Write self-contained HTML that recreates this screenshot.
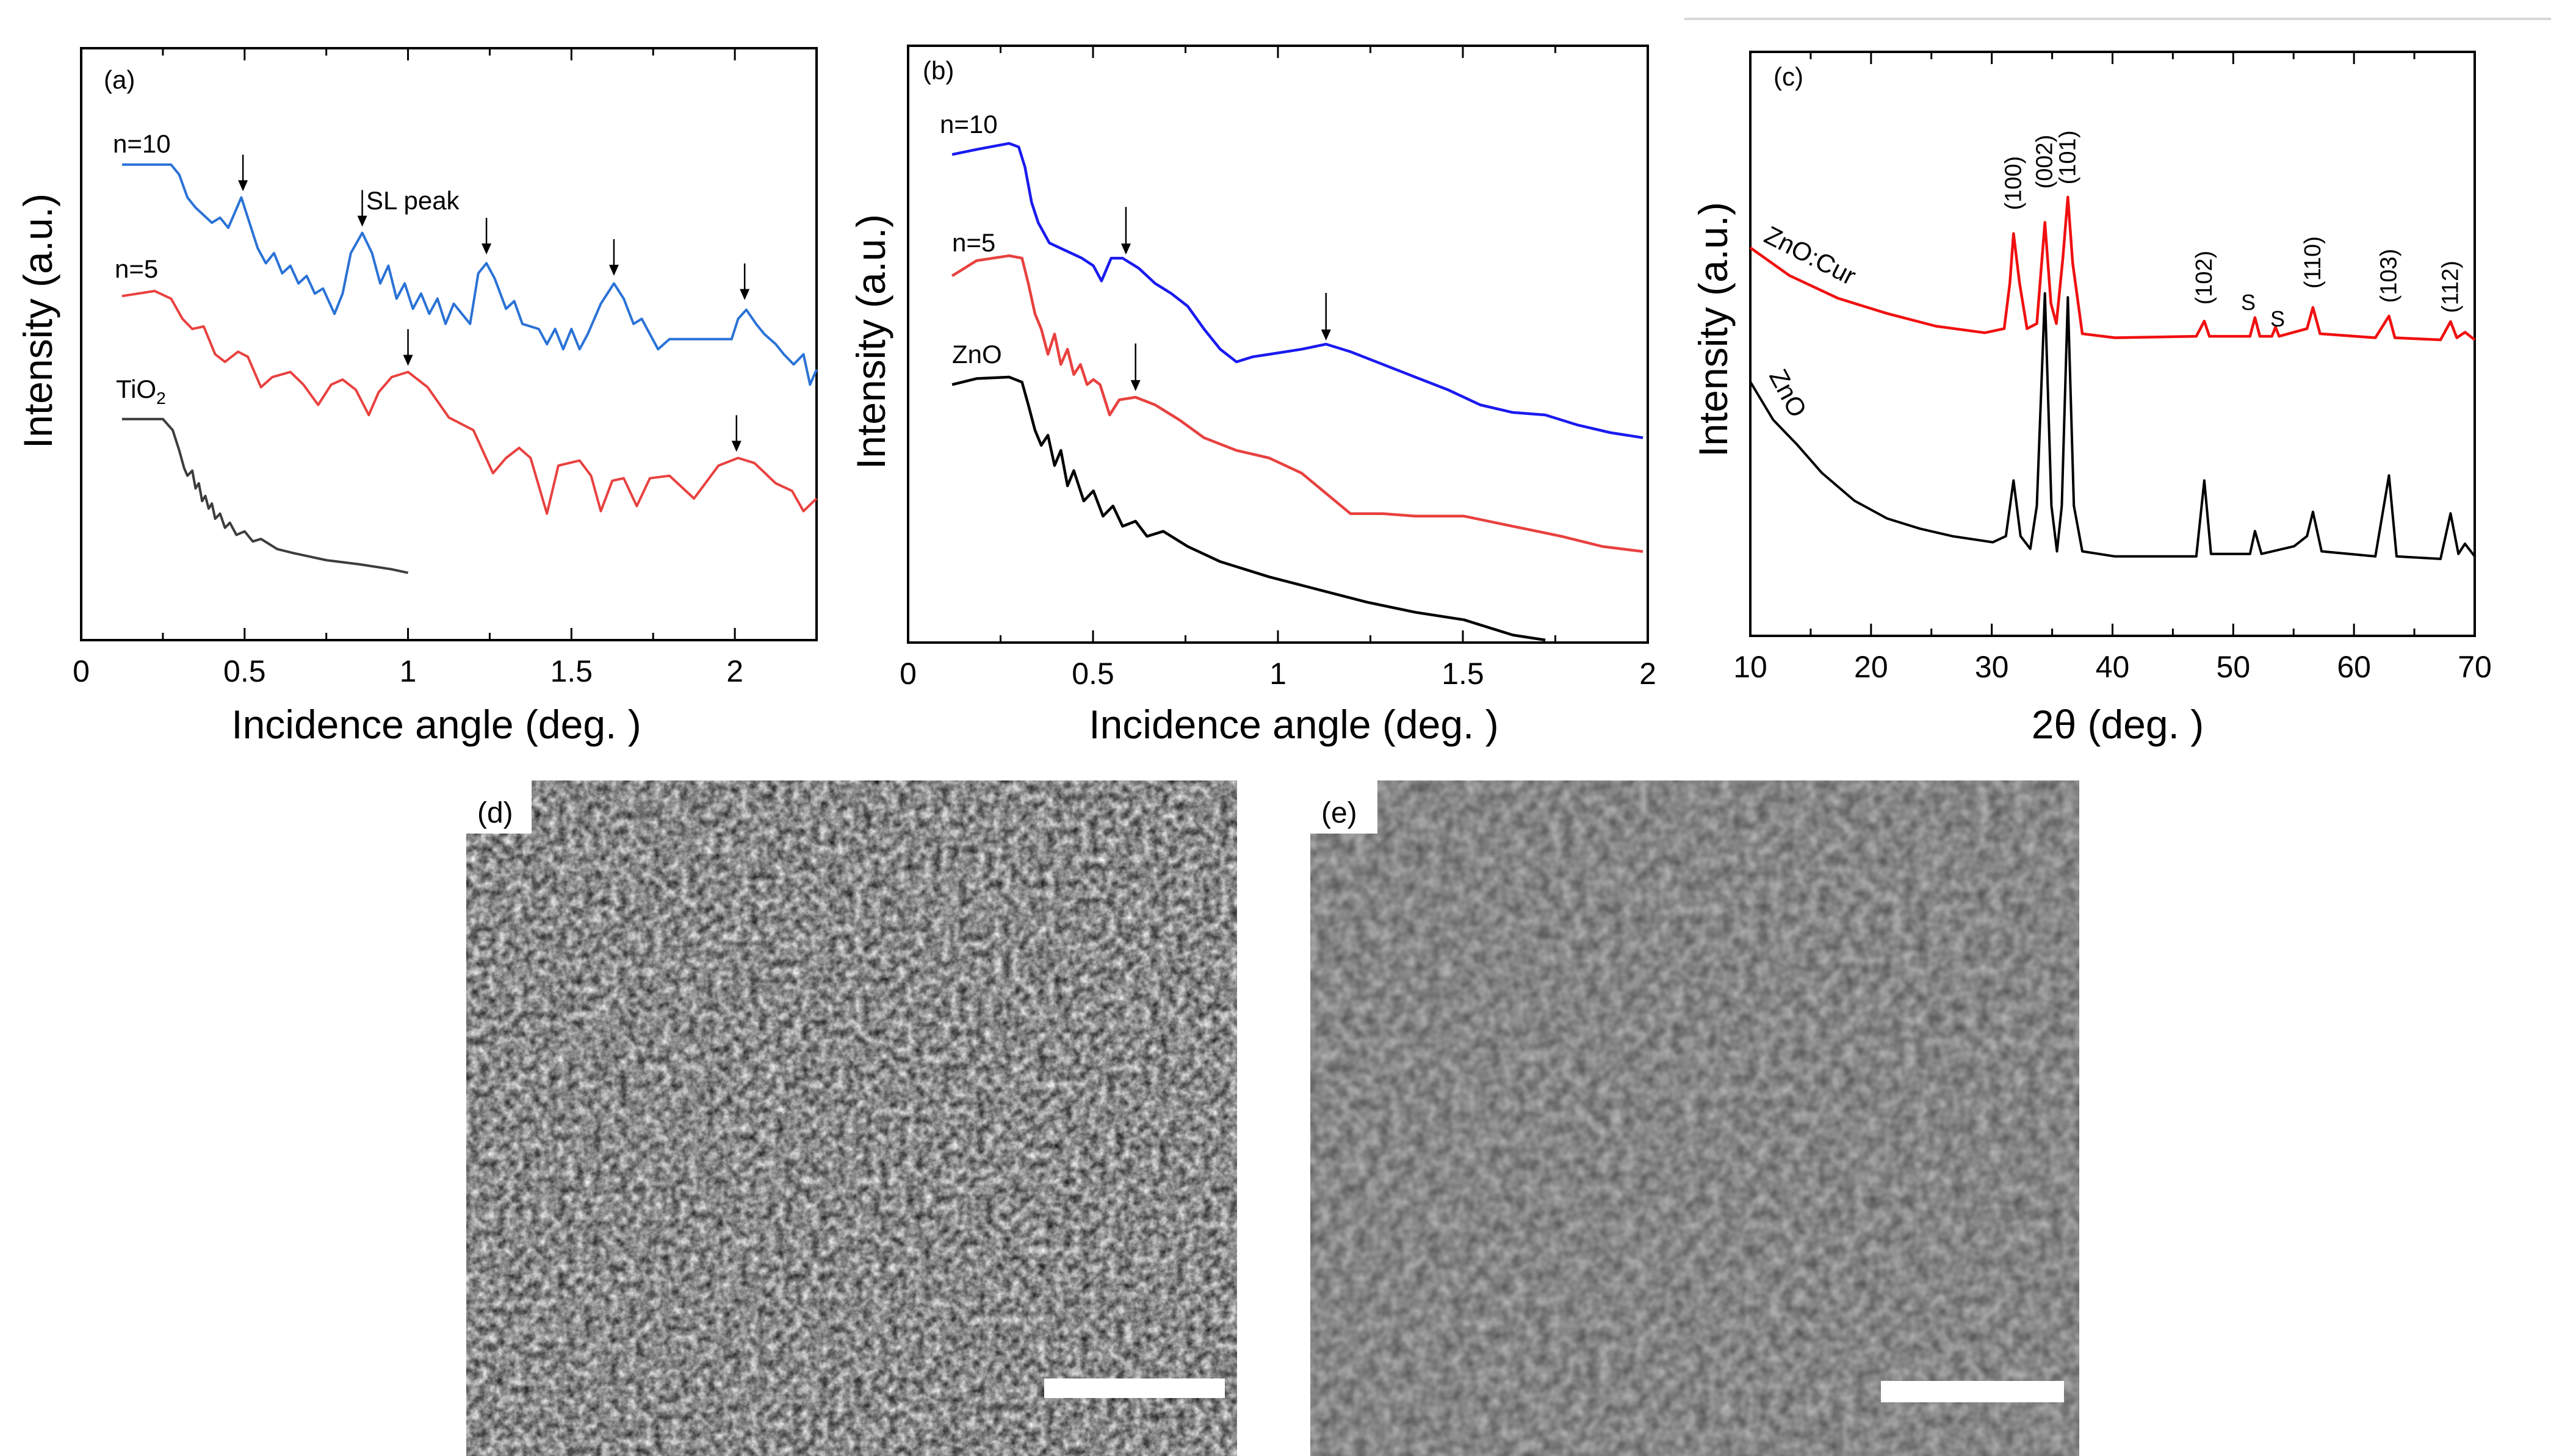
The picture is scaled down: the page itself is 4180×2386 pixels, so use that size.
<!DOCTYPE html>
<html><head><meta charset="utf-8">
<style>
html,body{margin:0;padding:0;background:#fff;}
svg{display:block;}
text{font-family:"Liberation Sans",sans-serif;}
</style></head>
<body>
<svg id="fig" width="4180" height="2386" viewBox="0 0 4180 2386" xmlns="http://www.w3.org/2000/svg">
<defs>
<filter id="semD" x="0" y="0" width="100%" height="100%" color-interpolation-filters="sRGB">
<feTurbulence type="fractalNoise" baseFrequency="0.07" numOctaves="3" seed="4"/>
<feColorMatrix type="matrix" values="1.0 0 0 0 0.04  1.0 0 0 0 0.04  1.0 0 0 0 0.04  0 0 0 0 1"/>
</filter>
<filter id="semE" x="0" y="0" width="100%" height="100%" color-interpolation-filters="sRGB">
<feTurbulence type="fractalNoise" baseFrequency="0.05" numOctaves="2" seed="9"/>
<feColorMatrix type="matrix" values="0.45 0 0 0 0.30  0.45 0 0 0 0.30  0.45 0 0 0 0.30  0 0 0 0 1"/>
</filter>
</defs>
<line x1="2760" y1="31" x2="4180" y2="31" stroke="#d8d8d8" stroke-width="4"/>
<g id="plots"></g>
<g>
<rect x="764" y="1279" width="1263" height="1107" filter="url(#semD)"/>
<rect x="764" y="1279" width="107" height="87" fill="#fff"/>
<text x="782" y="1348" font-size="48">(d)</text>
<rect x="1711" y="2259" width="296" height="32" fill="#fff"/>
</g>
<g>
<rect x="2147" y="1279" width="1260" height="1107" filter="url(#semE)"/>
<rect x="2147" y="1279" width="110" height="87" fill="#fff"/>
<text x="2165" y="1348" font-size="48">(e)</text>
<rect x="3082" y="2263" width="300" height="35" fill="#fff"/>
</g>
</svg>
<script>
// ---------- Panel (a) data ----------
const aBlueX=[0.125,0.275,0.3,0.325,0.35,0.375,0.4,0.425,0.45,0.49,0.515,0.54,0.565,0.59,0.615,0.64,0.665,0.69,0.715,0.74,0.775,0.8,0.825,0.86,0.89,0.915,0.94,0.965,0.99,1.015,1.04,1.065,1.09,1.115,1.14,1.19,1.215,1.24,1.265,1.3,1.325,1.35,1.4,1.425,1.45,1.475,1.5,1.525,1.55,1.59,1.63,1.66,1.69,1.715,1.74,1.765,1.8,1.9,1.99,2.01,2.035,2.065,2.09,2.125,2.15,2.18,2.21,2.23,2.25];
const aBlueY=[940,940,920,875,855,840,825,835,815,875,825,775,745,765,725,740,705,720,685,695,645,685,765,805,765,705,740,675,705,655,685,645,675,625,665,625,725,745,715,655,670,625,615,585,615,575,615,575,605,665,705,675,625,635,605,575,595,595,595,635,653,625,605,585,565,545,565,505,535];
const aRedX=[0.125,0.225,0.275,0.31,0.34,0.375,0.41,0.44,0.48,0.51,0.55,0.585,0.64,0.68,0.725,0.765,0.8,0.84,0.88,0.91,0.95,1.0,1.06,1.125,1.2,1.26,1.3,1.34,1.375,1.425,1.46,1.525,1.56,1.59,1.625,1.66,1.7,1.74,1.8,1.875,1.95,2.01,2.06,2.125,2.175,2.21,2.25];
const aRedY=[680,690,675,635,615,620,565,550,570,560,500,520,530,505,465,505,515,495,445,490,520,530,500,440,415,330,360,380,360,250,345,355,325,255,315,320,265,320,325,280,345,360,350,310,295,255,280];
const aGrayX=[0.125,0.25,0.28,0.3,0.315,0.325,0.34,0.35,0.36,0.37,0.38,0.39,0.4,0.41,0.425,0.44,0.455,0.475,0.5,0.525,0.55,0.6,0.65,0.7,0.75,0.85,0.95,1.0];
const aGrayY=[437,437,415,375,340,325,335,300,310,275,285,260,270,240,250,222,232,208,215,195,200,180,172,165,158,150,140,133];
const aArrowX=[0.495,0.86,1.24,1.63,2.03,1.0,2.005];
const aArrowY=[880,810,755,713,665,535,365];
const aTicks=[0,0.5,1,1.5,2];
const aTickLabels=["0","0.5","1","1.5","2"];
// ---------- Panel (b) data ----------
const bBlueX=[0.119,0.185,0.273,0.299,0.316,0.334,0.352,0.382,0.426,0.47,0.501,0.523,0.549,0.58,0.624,0.668,0.712,0.756,0.8,0.844,0.888,0.932,0.976,1.064,1.13,1.196,1.284,1.371,1.459,1.547,1.635,1.723,1.811,1.899,1.987];
const bBlueY=[965,975,987,980,940,870,830,790,775,760,745,715,760,760,740,710,690,665,620,580,555,565,570,580,590,575,550,525,500,470,455,450,430,415,405];
const bRedX=[0.119,0.185,0.273,0.308,0.325,0.343,0.36,0.378,0.396,0.413,0.431,0.448,0.466,0.484,0.501,0.519,0.545,0.571,0.615,0.668,0.734,0.8,0.888,0.976,1.064,1.13,1.196,1.284,1.371,1.503,1.635,1.767,1.877,1.987];
const bRedY=[725,755,765,760,710,650,620,570,610,550,580,530,550,510,520,510,450,480,485,470,440,405,380,365,335,295,255,255,250,250,230,210,190,180];
const bBlackX=[0.119,0.185,0.273,0.308,0.325,0.343,0.36,0.378,0.396,0.413,0.431,0.448,0.475,0.501,0.527,0.554,0.58,0.615,0.646,0.69,0.756,0.844,0.976,1.108,1.24,1.371,1.503,1.635,1.723];
const bBlackY=[510,522,525,515,470,420,390,410,350,380,310,340,280,300,250,270,230,240,210,220,190,160,130,105,80,60,45,15,5];
const bArrowX=[0.589,0.615,1.13];
const bArrowY=[760,490,590];
const bTicks=[0,0.5,1,1.5,2];
const bTickLabels=["0","0.5","1","1.5","2"];
// ---------- Panel (c) data ----------
const cRedX=[10,13.24,17.28,21.33,25.37,29.42,31.03,31.5,31.8,32.3,32.92,33.73,34.4,34.9,35.35,35.89,36.3,36.7,37.5,40.2,46.94,47.6,48.02,51.39,51.8,52.2,53.2,53.5,53.8,56.11,56.6,57.19,61.77,62.9,63.39,67.17,68.0,68.52,69.2,70];
const cRedY=[767,712,667,637,612,599,607,697,795,697,607,617,817,657,617,747,867,737,597,589,592,622,592,592,629,592,592,610,592,607,649,597,589,632,589,585,621,589,600,585];
const cBlackX=[10,11.89,13.91,15.93,18.63,21.33,24.02,26.72,30.09,31.17,31.8,32.38,33.19,33.73,34.4,34.94,35.4,35.8,36.3,36.8,37.5,40.2,46.94,47.6,48.16,51.39,51.8,52.34,55.04,56.11,56.6,57.32,61.77,62.9,63.53,67.17,68.0,68.65,69.19,70];
const cBlackY=[502,427,377,322,267,232,212,197,185,197,307,197,172,257,677,257,167,257,669,257,167,157,157,307,162,162,207,162,177,197,245,167,157,317,157,152,242,162,182,157];
const cTicks=[10,20,30,40,50,60,70];
const cTickLabels=["10","20","30","40","50","60","70"];
const cPeakX=[31.8,34.4,36.3,47.6,56.6,62.9,68.0];
const cPeakLabels=["(100)","(002)","(101)","(102)","(110)","(103)","(112)"];

const NS="http://www.w3.org/2000/svg";
const root=document.getElementById('plots');
function mk(tag,attrs,parent){const e=document.createElementNS(NS,tag);for(const k in attrs)e.setAttribute(k,attrs[k]);(parent||root).appendChild(e);return e;}
function lin(d0,d1,r0,r1){return v=>r0+(v-d0)*(r1-r0)/(d1-d0);}

function frame(g,x0,y0,x1,y1,sx,ticks,labels,minor,name){
  const b=mk('rect',{x:x0,y:y0,width:x1-x0,height:y1-y0,fill:'none',stroke:'#000','stroke-width':4},g);
  
  
  minor.forEach(v=>{
    const X=sx(v);
    const t1=mk('line',{x1:X,y1:y1,x2:X,y2:y1-12,stroke:'#000','stroke-width':3},g);
    
    
    const t2=mk('line',{x1:X,y1:y0,x2:X,y2:y0+12,stroke:'#000','stroke-width':3},g);
    
    
  });
  ticks.forEach((v,i)=>{
    const X=sx(v);
    const t=mk('line',{x1:X,y1:y1,x2:X,y2:y1-20,stroke:'#000','stroke-width':3},g);
    
    
    const tt=mk('line',{x1:X,y1:y0,x2:X,y2:y0+20,stroke:'#000','stroke-width':3},g);
    
    
    const l=mk('text',{x:X,y:y1+68,'font-size':50,'text-anchor':'middle'},g);
    l.textContent=labels[i];
    
    
  });
}
function series(g,X,Y,sx,sy,color,w,name){
  let d='';X.forEach((x,i)=>{d+=(i?'L':'M')+sx(x).toFixed(1)+' '+sy(Y[i]).toFixed(1);});
  const p=mk('path',{d:d,fill:'none',stroke:color,'stroke-width':w,'stroke-linejoin':'round'},g);
  
  
}
function arrow(g,x,y,len,name){
  const l=mk('line',{x1:x,y1:y-len,x2:x,y2:y-10,stroke:'#000','stroke-width':2.5},g);
  
  
  const h=mk('path',{d:`M${x-8} ${y-18}L${x+8} ${y-18}L${x} ${y}Z`,fill:'#000'},g);
  
  
}
function txt(g,x,y,s,size,name,extra){
  const t=mk('text',Object.assign({x:x,y:y,'font-size':size},extra||{}),g);
  t.textContent=s;
  
  
  return t;
}
function range(a,b,s){const r=[];for(let v=a;v<=b+1e-9;v+=s)r.push(+v.toFixed(4));return r;}

// Panel a
(function(){
  const g=mk('g',{});
  
  
  const x0=133,x1=1338,y0=79,y1=1049;
  const sx=lin(0,2.25,x0,x1), sy=lin(0,1170,y1,y0);
  frame(g,x0,y0,x1,y1,sx,aTicks,aTickLabels,range(0.25,2.25,0.5),'panel-a');
  series(g,aGrayX,aGrayY,sx,sy,'#3c3c3c',4,'tio2-curve');
  series(g,aRedX,aRedY,sx,sy,'#e8413f',4,'n5-curve-a');
  series(g,aBlueX,aBlueY,sx,sy,'#2a72d6',4,'n10-curve-a');
  aArrowX.forEach((v,i)=>arrow(g,sx(v),sy(aArrowY[i])-6,60,'sl-peak-arrow'));
  txt(g,170,145,'(a)',42,'panel-a-label');
  txt(g,185,250,'n=10',42,'n10-label-a');
  txt(g,600,343,'SL peak',42,'sl-peak-label');
  txt(g,188,455,'n=5',42,'n5-label-a');
  const t=txt(g,190,652,'TiO',42,'tio2-label');
  const s=mk('tspan',{'font-size':28,dy:10},t);s.textContent='2';
  txt(g,85,526,'Intensity (a.u.)',66,'panel-a-y-title',{transform:'rotate(-90 85 526)','text-anchor':'middle'});
  txt(g,715,1210,'Incidence angle (deg. )',66,'panel-a-x-title',{'text-anchor':'middle'});
})();

// Panel b
(function(){
  const g=mk('g',{});
  
  
  const x0=1488,x1=2700,y0=75,y1=1053;
  const sx=lin(0,2,x0,x1), sy=lin(0,1180,y1,y0);
  frame(g,x0,y0,x1,y1,sx,bTicks,bTickLabels,range(0.25,1.75,0.5),'panel-b');
  series(g,bBlackX,bBlackY,sx,sy,'#000',4.5,'zno-curve-b');
  series(g,bRedX,bRedY,sx,sy,'#e8413f',4.5,'n5-curve-b');
  series(g,bBlueX,bBlueY,sx,sy,'#1a1af0',4.5,'n10-curve-b');
  bArrowX.forEach((v,i)=>arrow(g,sx(v),sy(bArrowY[i])-6,78,'b-peak-arrow'));
  txt(g,1512,130,'(b)',42,'panel-b-label');
  txt(g,1540,218,'n=10',42,'n10-label-b');
  txt(g,1560,412,'n=5',42,'n5-label-b');
  txt(g,1560,595,'ZnO',42,'zno-label-b');
  txt(g,1450,560,'Intensity (a.u.)',66,'panel-b-y-title',{transform:'rotate(-90 1450 560)','text-anchor':'middle'});
  txt(g,2120,1210,'Incidence angle (deg. )',66,'panel-b-x-title',{'text-anchor':'middle'});
})();

// Panel c
(function(){
  const g=mk('g',{});
  
  
  const x0=2868,x1=4055,y0=85,y1=1042;
  const sx=lin(10,70,x0,x1), sy=lin(0,1154,y1,y0);
  frame(g,x0,y0,x1,y1,sx,cTicks,cTickLabels,range(15,65,10),'panel-c');
  series(g,cBlackX,cBlackY,sx,sy,'#000',4,'zno-curve-c');
  series(g,cRedX,cRedY,sx,sy,'#f01010',4.5,'zno-cur-curve');
  const ly=[300,265,258,455,430,452,470];
  cPeakX.forEach((v,i)=>{
    const X=sx(v)+12, Y=ly[i];
    const t=mk('text',{x:X,y:Y,'font-size':38,'text-anchor':'middle',transform:`rotate(-90 ${X} ${Y})`},g);
    t.textContent=cPeakLabels[i];
    
    
  });
  txt(g,3684,508,'S',36,'s-label-1',{'text-anchor':'middle'});
  txt(g,3732,535,'S',36,'s-label-2',{'text-anchor':'middle'});
  txt(g,2906,140,'(c)',42,'panel-c-label');
  txt(g,2888,395,'ZnO:Cur',42,'zno-cur-label',{transform:'rotate(27 2888 395)'});
  txt(g,2898,615,'ZnO',42,'zno-label-c',{transform:'rotate(62 2898 615)'});
  txt(g,2830,540,'Intensity (a.u.)',66,'panel-c-y-title',{transform:'rotate(-90 2830 540)','text-anchor':'middle'});
  txt(g,3470,1210,'2θ (deg. )',66,'panel-c-x-title',{'text-anchor':'middle'});
})();
</script>
</body></html>
